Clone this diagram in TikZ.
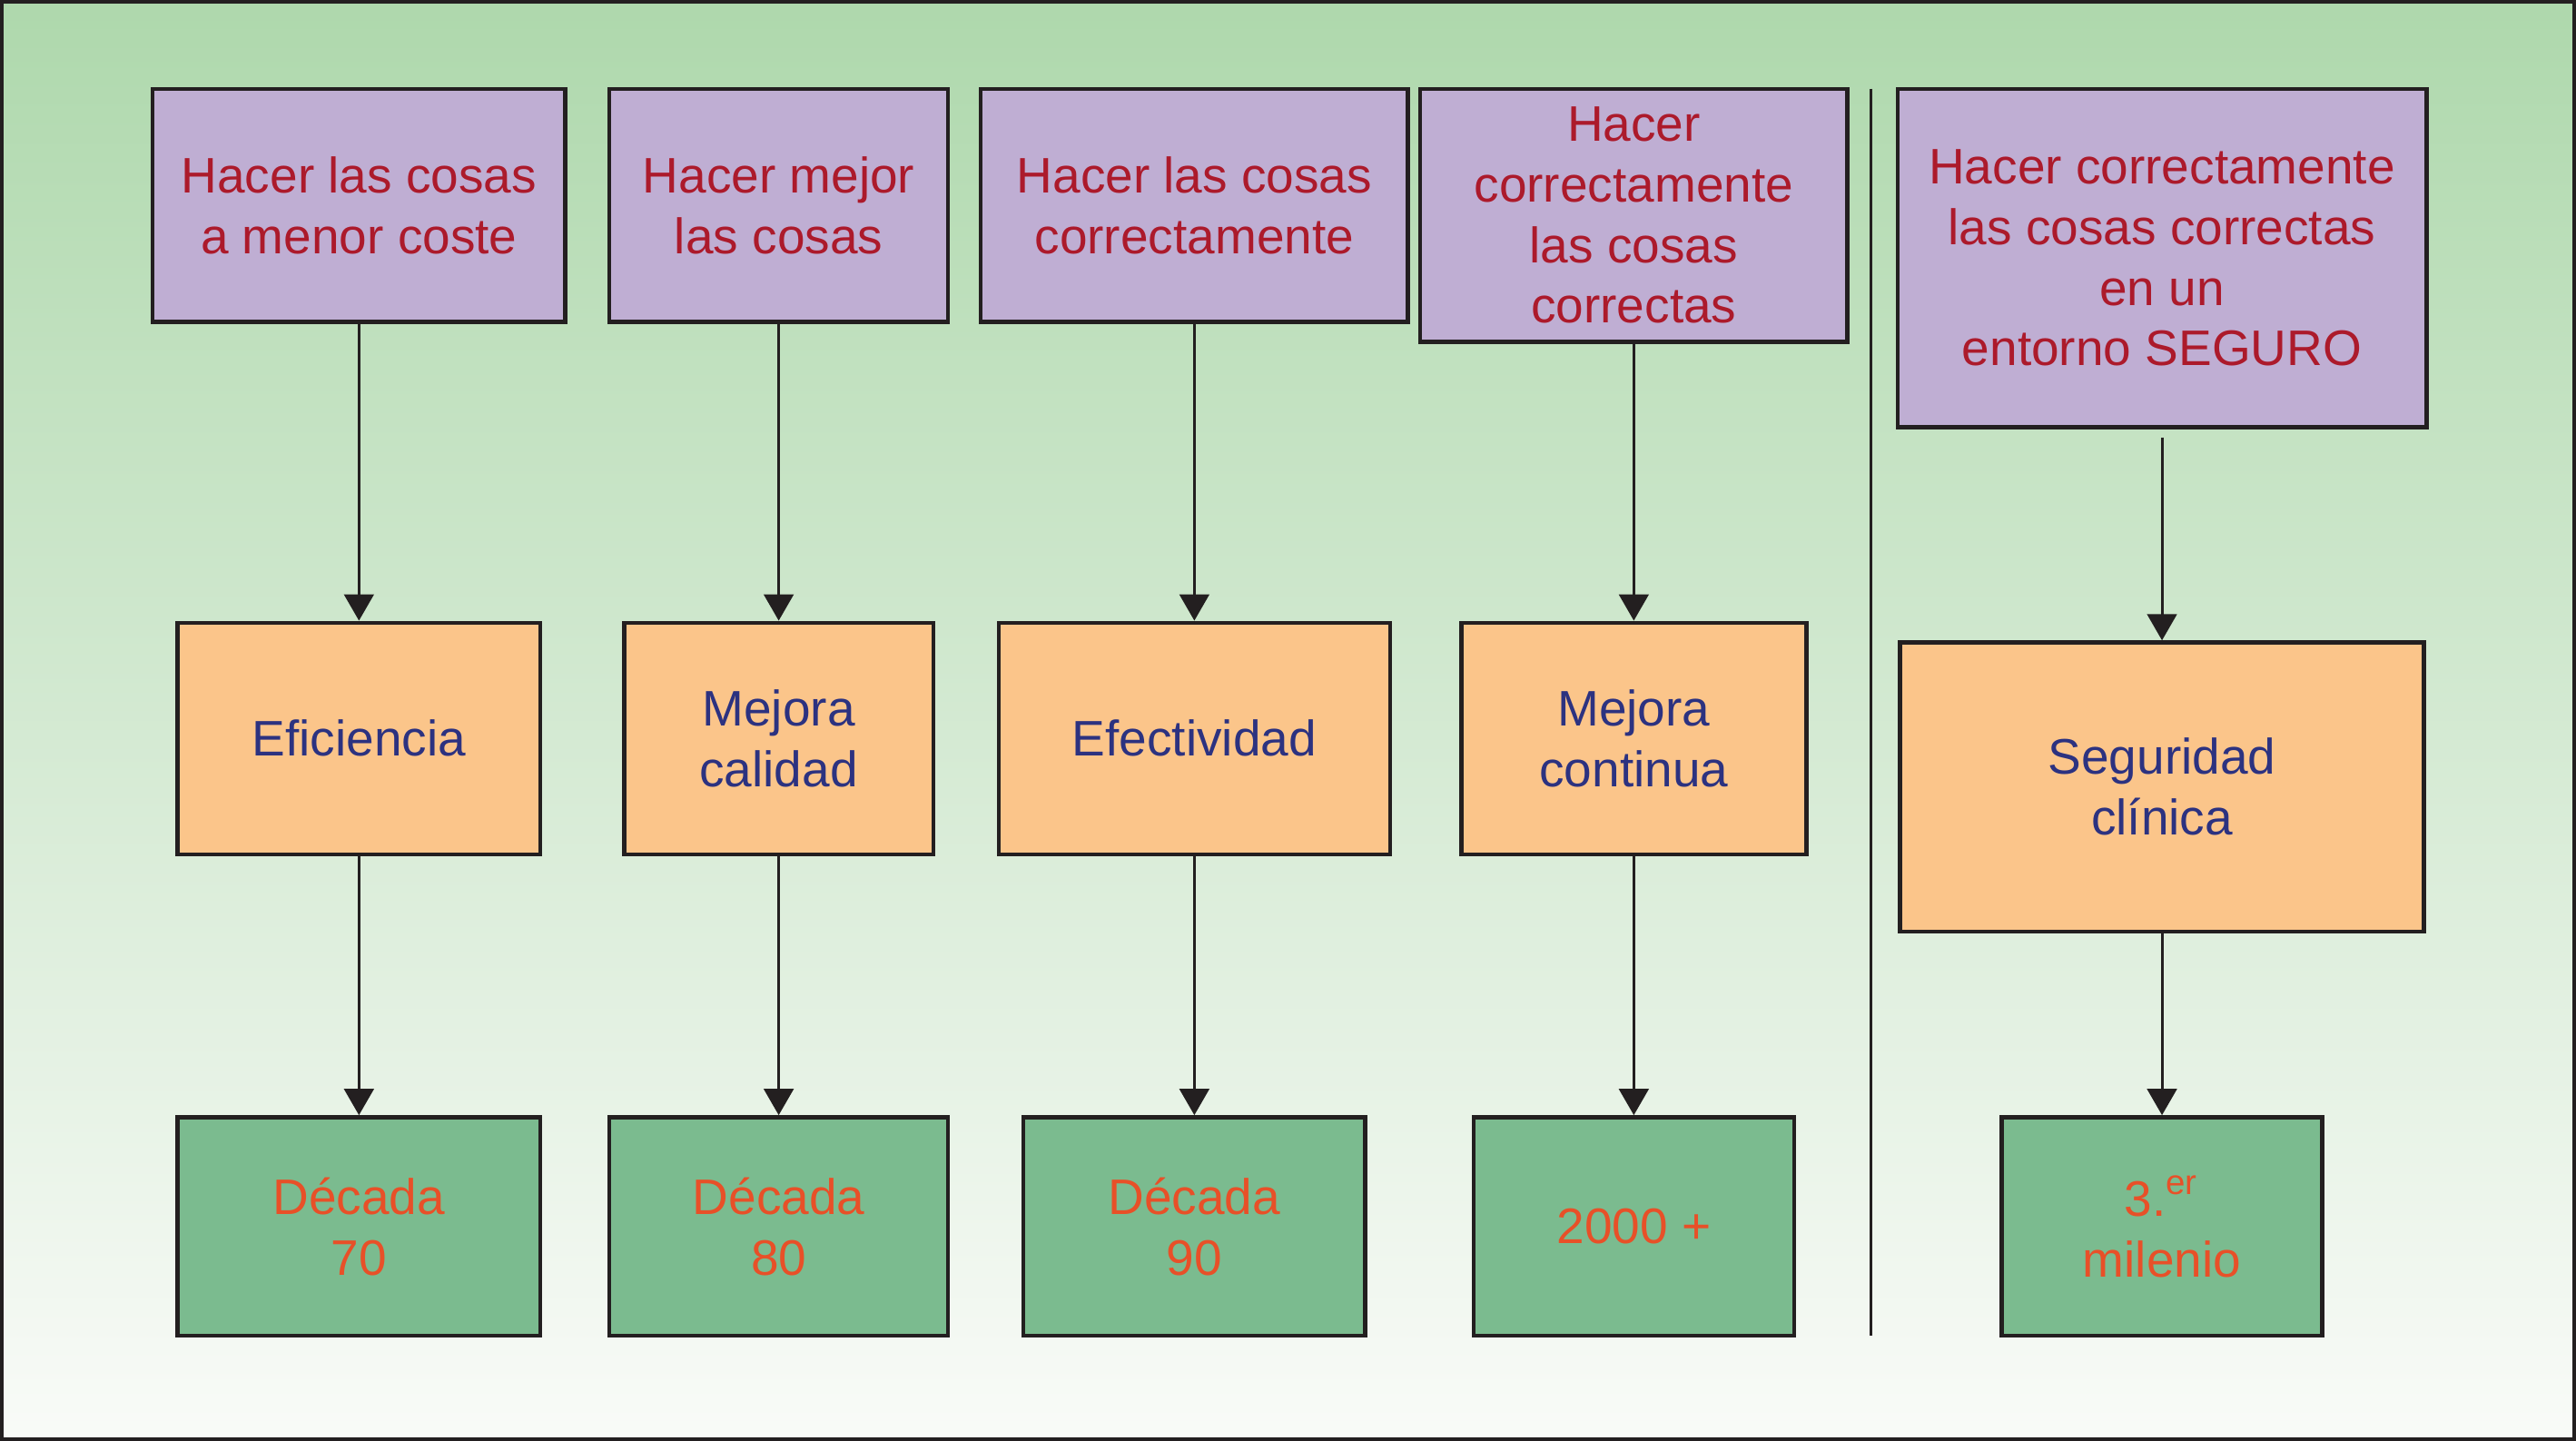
\documentclass[tikz,border=0pt]{standalone}
\usepackage{fontspec}
\setmainfont{Liberation Sans}
\usetikzlibrary{arrows.meta}
\definecolor{borde}{RGB}{35,31,32}
\definecolor{lila}{RGB}{191,174,211}
\definecolor{naranja}{RGB}{251,197,138}
\definecolor{verde}{RGB}{123,187,143}
\definecolor{rojo}{RGB}{172,26,43}
\definecolor{azul}{RGB}{44,50,128}
\definecolor{teja}{RGB}{232,80,40}
\definecolor{fondoarriba}{RGB}{174,216,172}
\definecolor{fondoabajo}{RGB}{249,251,248}

\begin{document}
\begin{tikzpicture}[x=0.1mm,y=-0.1mm,
    caja/.style={draw=borde,line width=0.24mm,inner sep=0pt,align=center,
      font=\fontsize{8.65}{10.5}\selectfont},
    meta/.style={caja,fill=lila,text=rojo,minimum height=14.2mm},
    enfoque/.style={caja,fill=naranja,text=azul,minimum height=14.1mm},
    epoca/.style={caja,fill=verde,text=teja,minimum height=13.3mm},
    flecha/.style={line width=0.17mm,draw=borde,-{Triangle[width=1.8mm,length=1.6mm]}}]
    \useasboundingbox (0,0) rectangle (1568,877);
    \shade[top color=fondoarriba,bottom color=fondoabajo] (0,0) rectangle (1568,877);
    \draw[line width=0.22mm,borde] (1,1) rectangle (1567,876);

    \node[meta,minimum width=25.1mm](meta1) at (218.5,125) {Hacer las cosas\\a menor coste};
    \node[meta,minimum width=20.6mm](meta2) at (474,125) {Hacer mejor\\las cosas};
    \node[meta,minimum width=26mm](meta3) at (727,125) {Hacer las cosas\\correctamente};
    \node[meta,minimum width=26mm,minimum height=15.4mm](meta4) at (994.5,131) {Hacer\\correctamente\\las cosas\\correctas};
    \node[meta,minimum width=32.2mm,minimum height=20.6mm](meta5) at (1316,157) {Hacer correctamente\\las cosas correctas\\en un\\entorno SEGURO};

    \node[enfoque,minimum width=22.1mm](enfoque1) at (218.5,449.5) {Eficiencia};
    \node[enfoque,minimum width=18.8mm](enfoque2) at (474,449.5) {Mejora\\calidad};
    \node[enfoque,minimum width=23.8mm](enfoque3) at (727,449.5) {Efectividad};
    \node[enfoque,minimum width=21mm](enfoque4) at (994.5,449.5) {Mejora\\continua};
    \node[enfoque,minimum width=31.9mm,minimum height=17.6mm](enfoque5) at (1316,479) {Seguridad\\clínica};

    \node[epoca,minimum width=22.1mm](epoca1) at (218.5,746.5) {Década\\70};
    \node[epoca,minimum width=20.6mm](epoca2) at (474,746.5) {Década\\80};
    \node[epoca,minimum width=20.8mm](epoca3) at (727,746.5) {Década\\90};
    \node[epoca,minimum width=19.5mm](epoca4) at (994.5,746.5) {2000 +};
    \node[epoca,minimum width=19.5mm](epoca5) at (1316,746.5) {3.\textsuperscript{er}\\milenio};

    \draw[flecha](meta1)--(enfoque1);
    \draw[flecha](meta2)--(enfoque2);
    \draw[flecha](meta3)--(enfoque3);
    \draw[flecha](meta4)--(enfoque4);
    \draw[flecha,shorten <=0.5mm](meta5)--(enfoque5);
    \draw[flecha](enfoque1)--(epoca1);
    \draw[flecha](enfoque2)--(epoca2);
    \draw[flecha](enfoque3)--(epoca3);
    \draw[flecha](enfoque4)--(epoca4);
    \draw[flecha](enfoque5)--(epoca5);

    \coordinate(sepA) at (1139,54);
    \coordinate(sepB) at (1139,813);
    \draw[line width=0.17mm,borde](sepA)--(sepB);
\end{tikzpicture}
\end{document}
